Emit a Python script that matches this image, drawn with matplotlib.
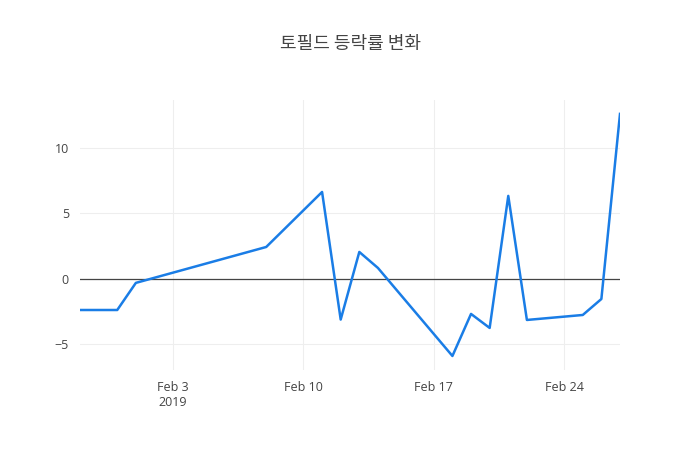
import numpy as np
import pandas as pd
import matplotlib
matplotlib.use('Agg')
import matplotlib.pyplot as plt
import matplotlib.dates as mdates

# 토필드 daily change (%)
dates = ['2019-01-29', '2019-01-31', '2019-02-01', '2019-02-08', '2019-02-11',
         '2019-02-12', '2019-02-13', '2019-02-14', '2019-02-18', '2019-02-19',
         '2019-02-20', '2019-02-21', '2019-02-22', '2019-02-25', '2019-02-26',
         '2019-02-27']
values = [-2.37, -2.37, -0.3, 2.44, 6.64, -3.1, 2.06, 0.84, -5.88, -2.67,
          -3.74, 6.34, -3.13, -2.75, -1.53, 12.6]
tick_dates = ['2019-02-03', '2019-02-10', '2019-02-17', '2019-02-24']
tick_labels = ['Feb 3\n2019', 'Feb 10', 'Feb 17', 'Feb 24']
y_ticks = [-5, 0, 5, 10]

x = pd.to_datetime(dates)

fig = plt.figure(figsize=(7, 4.5), dpi=100)
ax = fig.add_axes([80/700, 80/450, 540/700, 270/450])

ax.plot(x, values, color='#1a7de6', lw=1.8, zorder=3)
ax.axhline(0, color='#444444', lw=0.9, zorder=2)

ax.set_xlim(x[0], x[-1])
ax.set_ylim(-6.95, 13.66)

ax.set_xticks(pd.to_datetime(tick_dates))
ax.set_xticklabels(tick_labels)
ax.set_yticks(y_ticks)
ax.set_yticklabels(['−5', '0', '5', '10'])

ax.grid(True, color='#eeeeee', lw=0.8, zorder=0)
ax.set_axisbelow(True)
for s in ax.spines.values():
    s.set_visible(False)
ax.tick_params(length=0, colors='#444444', labelsize=9, pad=8)
for lab in ax.get_xticklabels() + ax.get_yticklabels():
    lab.set_fontfamily(['Open Sans', 'DejaVu Sans'])

fig.text(0.5, 1 - 44/450, '토필드 등락률 변화', ha='center', va='center',
         fontsize=13, color='#444444',
         family=['Noto Sans CJK KR', 'DejaVu Sans'])

fig.savefig('out.png', dpi=100)
